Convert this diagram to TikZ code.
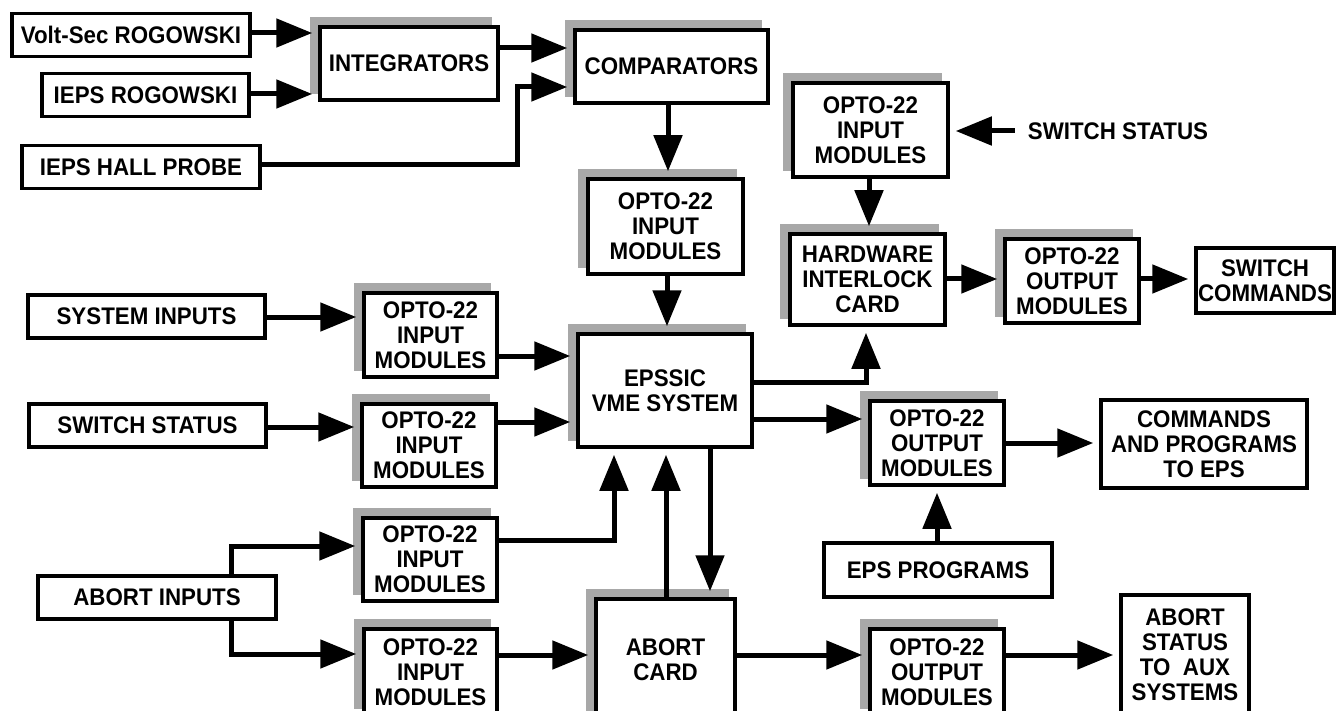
\documentclass[tikz,border=0pt]{standalone}
\usepackage{fontspec}
\setmainfont[FakeStretch=0.93]{Liberation Sans}
\usepackage{tikz}
\usetikzlibrary{arrows.meta,shadows,calc}

\definecolor{shadowgray}{RGB}{168,168,168}

\tikzset{
  blk/.style={draw, line width=3.5pt, fill=white, inner sep=0pt, align=center,
    font=\fontsize{24}{25}\selectfont\bfseries},
  shd/.style={blk, drop shadow={shadow xshift=-8pt, shadow yshift=8pt,
    opacity=1, fill=shadowgray, draw=shadowgray}},
  arr/.style={line width=5pt, -{Triangle[length=36pt,width=28pt]}, shorten >=6pt}
}

\begin{document}
\begin{tikzpicture}[x=1pt,y=-1pt]
\useasboundingbox (0,0) rectangle (1338,711);

% Sensor inputs
\node[blk, minimum width=238, minimum height=43] (vsr) at (131,35) {Volt-Sec ROGOWSKI};
\node[blk, minimum width=207, minimum height=43] (ier) at (145.5,95) {IEPS ROGOWSKI};
\node[blk, minimum width=238, minimum height=43] (hall) at (141,167) {IEPS HALL PROBE};

% Integrators and comparators
\node[shd, minimum width=178, minimum height=73] (integ) at (409,63.5) {INTEGRATORS};
\node[shd, minimum width=193, minimum height=73] (comp) at (671.5,66.5) {COMPARATORS};
\node[shd, minimum width=155, minimum height=95] (optoA) at (665.5,226.5) {OPTO-22\\INPUT\\MODULES};

% Switch interlock chain
\node[shd, minimum width=155, minimum height=94] (optoSw) at (870.5,130) {OPTO-22\\INPUT\\MODULES};
\node[inner xsep=13pt, font=\fontsize{24}{25}\selectfont\bfseries] (swstat) at (1118,131) {SWITCH STATUS};
\node[shd, minimum width=155, minimum height=91] (hw) at (867.5,279.5) {HARDWARE\\INTERLOCK\\CARD};
\node[shd, minimum width=134, minimum height=84] (optoOutA) at (1072,281) {OPTO-22\\OUTPUT\\MODULES};
\node[blk, minimum width=138, minimum height=65] (swcmd) at (1265,280.5) {SWITCH\\COMMANDS};

% System and switch inputs
\node[blk, minimum width=237, minimum height=43] (sysin) at (146.5,316.5) {SYSTEM INPUTS};
\node[shd, minimum width=133, minimum height=84] (optoSys) at (430.5,335) {OPTO-22\\INPUT\\MODULES};
\node[blk, minimum width=237, minimum height=43] (swst) at (147.5,425.5) {SWITCH STATUS};
\node[shd, minimum width=134, minimum height=83] (optoSt) at (429,445.5) {OPTO-22\\INPUT\\MODULES};

% VME system and outputs
\node[shd, minimum width=174, minimum height=113] (eps) at (665,390.5) {EPSSIC\\VME SYSTEM};
\node[shd, minimum width=134, minimum height=84] (optoOutB) at (937,443) {OPTO-22\\OUTPUT\\MODULES};
\node[blk, minimum width=206, minimum height=88] (cmds) at (1204,444) {COMMANDS\\AND PROGRAMS\\TO EPS};
\node[blk, minimum width=228, minimum height=54] (epsprog) at (938,570) {EPS PROGRAMS};

% Abort path
\node[blk, minimum width=238, minimum height=43] (abin) at (157,597.5) {ABORT INPUTS};
\node[shd, minimum width=134, minimum height=83] (optoAb1) at (430,559.5) {OPTO-22\\INPUT\\MODULES};
\node[shd, minimum width=133, minimum height=86] (optoAb2) at (430.5,672) {OPTO-22\\INPUT\\MODULES};
\node[shd, minimum width=139, minimum height=122] (abcard) at (665.5,660) {ABORT\\CARD};
\node[shd, minimum width=134, minimum height=86] (optoOutC) at (937,672) {OPTO-22\\OUTPUT\\MODULES};
\node[blk, minimum width=128, minimum height=119] (abstat) at (1185,654.5) {ABORT\\STATUS\\TO~~AUX\\SYSTEMS};

% Connectors, top
\draw[arr] (vsr.east |- 0,33) -- (integ.west |- 0,33);
\draw[arr] (ier.east |- 0,94) -- (integ.west |- 0,94);
\draw[arr] (integ.east |- 0,48) -- (comp.west |- 0,48);
\draw[arr] (hall.east |- 0,165) -| (517,87) -- (comp.west |- 0,87);
\draw[arr] (668,0 |- comp.south) -- (668,0 |- optoA.north);
\draw[arr] (667,0 |- optoA.south) -- (667,0 |- eps.north);

% Connectors, switch interlock
\draw[arr] (swstat.west) -- (swstat.west -| optoSw.east);
\draw[arr] (869,0 |- optoSw.south) -- (869,0 |- hw.north);
\draw[arr] (hw.east |- 0,279) -- (optoOutA.west |- 0,279);
\draw[arr] (optoOutA.east |- 0,279) -- (swcmd.west |- 0,279);

% Connectors, inputs to VME
\draw[arr] (sysin.east |- 0,317) -- (optoSys.west |- 0,317);
\draw[arr] (optoSys.east |- 0,356) -- (eps.west |- 0,356);
\draw[arr] (swst.east |- 0,427) -- (optoSt.west |- 0,427);
\draw[arr] (optoSt.east |- 0,422) -- (eps.west |- 0,422);

% Connectors, VME outputs
\draw[arr] (eps.east |- 0,382) -| (866,0 |- hw.south);
\draw[arr] (eps.east |- 0,419) -- (optoOutB.west |- 0,419);
\draw[arr] (optoOutB.east |- 0,443) -- (cmds.west |- 0,443);
\draw[arr] (937,0 |- epsprog.north) -- (937,0 |- optoOutB.south);

% Connectors, abort
\draw[arr] (231,0 |- abin.north) |- (optoAb1.west |- 0,546);
\draw[arr] (231,0 |- abin.south) |- (optoAb2.west |- 0,654);
\draw[arr] (optoAb1.east |- 0,540) -| (614,0 |- eps.south);
\draw[arr] (optoAb2.east |- 0,655) -- (abcard.west |- 0,655);
\draw[arr] (666,0 |- abcard.north) -- (666,0 |- eps.south);
\draw[arr] (710,0 |- eps.south) -- (710,0 |- abcard.north);
\draw[arr] (abcard.east |- 0,655) -- (optoOutC.west |- 0,655);
\draw[arr] (optoOutC.east |- 0,655) -- (abstat.west |- 0,655);

\end{tikzpicture}
\end{document}
